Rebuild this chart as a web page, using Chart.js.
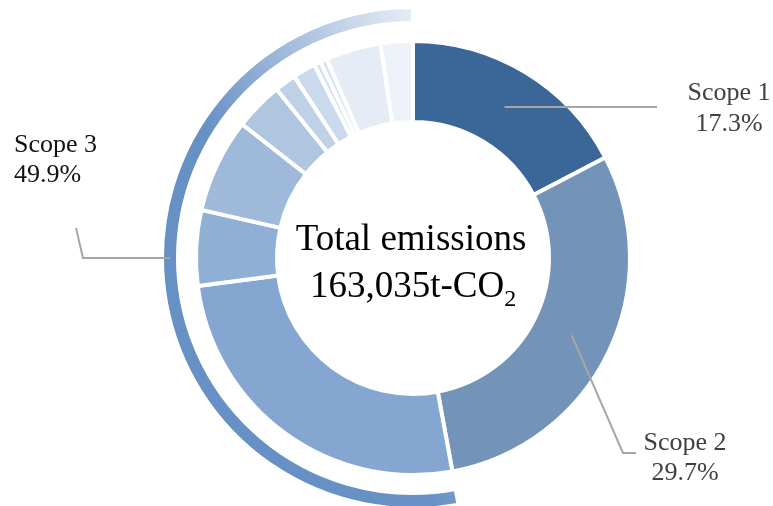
<!DOCTYPE html>
<html>
<head>
<meta charset="utf-8">
<script src="https://cdn.jsdelivr.net/npm/chart.js@4.4.0/dist/chart.umd.min.js"></script>
<style>
    html, body { margin: 0; padding: 0; background: #ffffff; }
    #wrap { width: 773px; height: 506px; position: relative; }
</style>
</head>
<body>
<div id="wrap"><canvas id="emissionsChart"></canvas></div>
<script>
// Emissions breakdown (% of total)
const scopeLabels = ['Scope 1', 'Scope 2', 'Scope 3'];
const scopeShares = ['17.3%', '29.7%', '49.9%'];

// Inner ring: Scope 1, Scope 2, then the Scope 3 categories (clockwise)
const ringValues = [17.3, 29.7, 25.8, 5.6, 7.0, 3.6, 1.6, 1.7, 0.5, 0.5, 4.1, 2.4];
const ringColors = ['#3a6698', '#7394b8', '#84a6d0', '#8fafd5', '#9fb9da', '#afc5e0',
                    '#bfd1e7', '#cad9eb', '#d3e0ef', '#d7e3f0', '#e5ecf5', '#edf1f8'];

const centerLine1 = 'Total emissions';
const centerLine2 = '163,035t-CO';
const centerSub = '2';

(function() {
    'use strict';

    const scope3Total = ringValues.slice(2).reduce((a, b) => a + b, 0);
    const outerValues = [ringValues[0], ringValues[1], scope3Total];

    // gradient for the Scope 3 outer arc, fading towards the top
    function outerColor(c) {
        if (c.dataIndex < 2) return 'rgba(0,0,0,0)';
        const area = c.chart.chartArea;
        if (!area) return '#6790c4';
        const cx = (area.left + area.right) / 2;
        const cy = (area.top + area.bottom) / 2;
        const g = c.chart.ctx.createLinearGradient(cx - 205, cy - 125, cx, cy - 250);
        g.addColorStop(0, '#6790c4');
        g.addColorStop(1, '#e8eef7');
        return g;
    }

    // labels, leader lines and the centre text
    const annotations = {
        id: 'annotations',
        afterDatasetsDraw(chart) {
            const ctx = chart.ctx;
            const ring = chart.getDatasetMeta(2).data;
            const arc = chart.getDatasetMeta(0).data[2];

            ctx.save();
            ctx.strokeStyle = '#a6a6a6';
            ctx.lineWidth = 2;

            // Scope 1
            const p1 = ring[0].getCenterPoint();
            ctx.beginPath();
            ctx.moveTo(p1.x, p1.y);
            ctx.lineTo(657, p1.y);
            ctx.stroke();

            // Scope 2
            const p2 = ring[1].getCenterPoint();
            ctx.beginPath();
            ctx.moveTo(p2.x, p2.y);
            ctx.lineTo(623, 453);
            ctx.lineTo(636, 453);
            ctx.stroke();

            // Scope 3
            const r3 = (arc.innerRadius + arc.outerRadius) / 2;
            ctx.beginPath();
            ctx.moveTo(arc.x - r3, arc.y);
            ctx.lineTo(83, arc.y);
            ctx.lineTo(76, 228);
            ctx.stroke();

            ctx.font = '26px "Liberation Serif", "Times New Roman", serif';
            ctx.textBaseline = 'alphabetic';
            ctx.fillStyle = '#404040';
            ctx.textAlign = 'center';
            ctx.fillText(scopeLabels[0], 729, 100);
            ctx.fillText(scopeShares[0], 729, 131);
            ctx.fillText(scopeLabels[1], 685, 450);
            ctx.fillText(scopeShares[1], 685, 480);

            ctx.fillStyle = '#111111';
            ctx.textAlign = 'left';
            ctx.fillText(scopeLabels[2], 14, 152);
            ctx.fillText(scopeShares[2], 14, 182);

            // centre text
            const cx = ring[0].x - 2;
            ctx.fillStyle = '#000000';
            ctx.textAlign = 'center';
            ctx.font = '37px "Liberation Serif", "Times New Roman", serif';
            ctx.fillText(centerLine1, cx, 250);

            const w1 = ctx.measureText(centerLine2).width;
            ctx.font = '24px "Liberation Serif", "Times New Roman", serif';
            const w2 = ctx.measureText(centerSub).width;
            const left = cx + 2 - (w1 + w2) / 2;
            ctx.textAlign = 'left';
            ctx.fillText(centerSub, left + w1, 306);
            ctx.font = '37px "Liberation Serif", "Times New Roman", serif';
            ctx.fillText(centerLine2, left, 297);
            ctx.restore();
        }
    };

    new Chart(document.getElementById('emissionsChart'), {
        type: 'doughnut',
        data: {
            labels: ringValues.map((v, i) => i < 2 ? scopeLabels[i] : 'Scope 3-' + (i - 1)),
            datasets: [{
                // outer Scope 3 arc
                data: outerValues,
                backgroundColor: outerColor,
                borderColor: '#ffffff',
                borderWidth: 4,
                weight: 16
            }, {
                // empty gap between arc and ring
                data: outerValues,
                backgroundColor: 'rgba(0,0,0,0)',
                borderWidth: 0,
                weight: 18
            }, {
                data: ringValues,
                backgroundColor: ringColors,
                borderColor: '#ffffff',
                borderWidth: 4,
                weight: 81
            }]
        },
        options: {
            responsive: true,
            maintainAspectRatio: false,
            animation: false,
            radius: 251,
            cutout: '54.18%',
            layout: { padding: { left: 53, right: 0, top: 10, bottom: 0 } },
            plugins: {
                legend: { display: false },
                tooltip: { enabled: false }
            }
        },
        plugins: [annotations]
    });
})();
</script>
</body>
</html>
